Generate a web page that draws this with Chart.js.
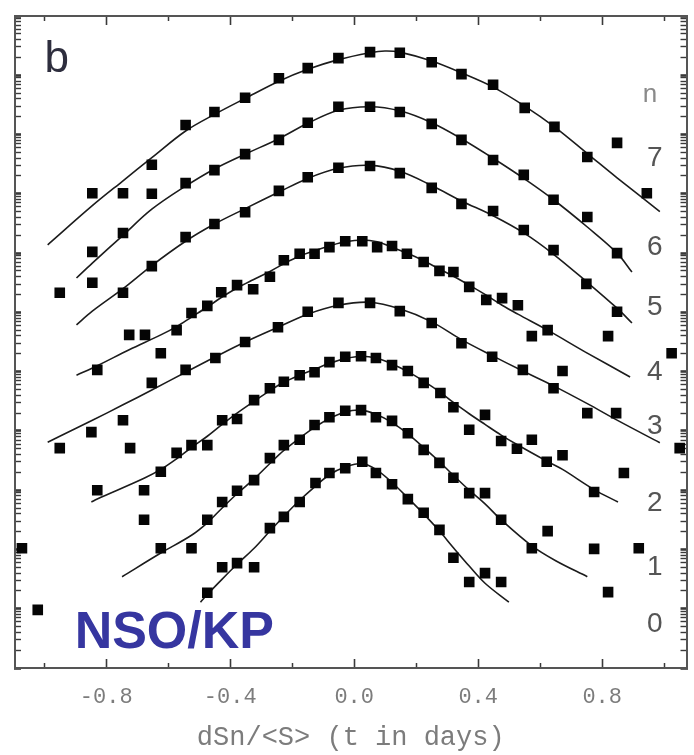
<!DOCTYPE html>
<html>
<head>
<meta charset="utf-8">
<script src="https://cdn.jsdelivr.net/npm/chart.js@4.4.0/dist/chart.umd.min.js"></script>
<style>
html,body{margin:0;padding:0;background:#fff;}
canvas{display:block;}
</style>
</head>
<body>
<canvas id="c" width="694" height="755"></canvas>
<script>
// ---- axis / label data ----
const xMajorTicks = [-0.8, -0.4, 0.0, 0.4, 0.8];
const xMinorTicks = [-1.0, -0.6, -0.2, 0.2, 0.6, 1.0];
const yDecades = [0, 1, 2, 3, 4, 5, 6, 7, 8, 9, 10, 11];
const curveLabels = ['n', '7', '6', '5', '4', '3', '2', '1', '0'];
const xTitle = 'dSn/<S> (t in days)';

// ---- measured points: [t, log10 value] ----
const dots7 = [[-0.845,8.01],[-0.746,8.01],[-0.653,8.49],[-0.544,9.16],[-0.451,9.38],[-0.352,9.62],[-0.243,9.95],[-0.150,10.12],[-0.051,10.29],[0.051,10.39],[0.147,10.38],[0.250,10.22],[0.346,10.02],[0.448,9.84],[0.550,9.45],[0.646,9.13],[0.752,8.62],[0.848,8.86],[0.944,8.01]];
const dots6 = [[-0.950,6.33],[-0.845,7.02],[-0.746,7.34],[-0.653,8.00],[-0.544,8.18],[-0.451,8.40],[-0.352,8.67],[-0.243,8.91],[-0.150,9.20],[-0.051,9.47],[0.051,9.47],[0.147,9.38],[0.250,9.18],[0.346,8.91],[0.448,8.57],[0.547,8.32],[0.643,7.90],[0.752,7.61],[0.848,7.00]];
const dots5 = [[-0.845,6.50],[-0.746,6.33],[-0.653,6.78],[-0.544,7.27],[-0.451,7.49],[-0.352,7.69],[-0.243,8.05],[-0.150,8.28],[-0.051,8.44],[0.051,8.47],[0.147,8.35],[0.250,8.10],[0.346,7.83],[0.448,7.71],[0.547,7.39],[0.643,7.05],[0.749,6.48],[0.848,6.01]];
const dots4 = [[-0.829,5.03],[-0.726,5.62],[-0.675,5.62],[-0.573,5.70],[-0.525,5.99],[-0.474,6.11],[-0.429,6.34],[-0.378,6.46],[-0.326,6.39],[-0.272,6.60],[-0.227,6.88],[-0.176,6.99],[-0.128,6.99],[-0.080,7.10],[-0.029,7.20],[0.026,7.20],[0.074,7.10],[0.122,7.12],[0.170,6.99],[0.224,6.85],[0.275,6.70],[0.320,6.68],[0.371,6.43],[0.426,6.21],[0.477,6.24],[0.528,6.12],[0.573,5.60],[0.624,5.70],[0.819,5.60],[1.024,5.31]];
const dots3 = [[-0.950,3.71],[-0.848,3.98],[-0.746,4.18],[-0.723,3.71],[-0.653,4.81],[-0.624,5.31],[-0.544,5.03],[-0.448,5.23],[-0.352,5.50],[-0.246,5.75],[-0.150,6.01],[-0.051,6.16],[0.051,6.16],[0.147,6.02],[0.250,5.82],[0.346,5.48],[0.445,5.25],[0.544,5.03],[0.643,4.72],[0.672,5.01],[0.752,4.30],[0.845,4.30],[1.050,3.71]];
const dots2 = [[-0.829,3.00],[-0.678,3.00],[-0.678,2.50],[-0.624,3.31],[-0.573,3.63],[-0.525,3.76],[-0.474,3.76],[-0.426,4.18],[-0.378,4.20],[-0.323,4.52],[-0.272,4.72],[-0.227,4.83],[-0.176,4.94],[-0.128,4.99],[-0.080,5.16],[-0.029,5.25],[0.022,5.26],[0.070,5.23],[0.122,5.11],[0.173,5.01],[0.224,4.81],[0.278,4.64],[0.320,4.40],[0.371,4.02],[0.422,4.27],[0.474,3.83],[0.525,3.70],[0.573,3.85],[0.621,3.48],[0.672,3.59],[0.774,2.97],[0.870,3.29]];
const dots1 = [[-1.072,2.02],[-0.624,2.02],[-0.525,2.02],[-0.474,2.50],[-0.426,2.80],[-0.378,2.99],[-0.323,3.17],[-0.272,3.54],[-0.227,3.76],[-0.176,3.85],[-0.128,4.10],[-0.080,4.23],[-0.029,4.34],[0.022,4.35],[0.070,4.23],[0.122,4.17],[0.173,3.96],[0.224,3.68],[0.275,3.46],[0.320,3.21],[0.371,2.95],[0.422,2.95],[0.474,2.50],[0.573,2.02],[0.624,2.31],[0.774,2.01],[0.918,2.02]];
const dots0 = [[-1.021,0.98],[-0.474,1.27],[-0.426,1.70],[-0.378,1.77],[-0.323,1.70],[-0.272,2.36],[-0.227,2.55],[-0.176,2.80],[-0.125,3.12],[-0.080,3.29],[-0.029,3.37],[0.026,3.48],[0.070,3.29],[0.122,3.10],[0.173,2.85],[0.224,2.62],[0.275,2.33],[0.320,1.86],[0.371,1.45],[0.422,1.60],[0.474,1.45],[0.819,1.28]];

// ---- fitted curves: [t, log10 value] ----
const fit7 = [[-0.989,7.14],[-0.845,7.80],[-0.746,8.22],[-0.653,8.61],[-0.544,9.06],[-0.451,9.34],[-0.352,9.61],[-0.243,9.90],[-0.150,10.10],[-0.054,10.26],[0.051,10.38],[0.099,10.41],[0.147,10.39],[0.250,10.24],[0.346,10.04],[0.448,9.80],[0.550,9.48],[0.646,9.13],[0.752,8.68],[0.848,8.27],[0.986,7.70]];
const fit6 = [[-0.896,6.58],[-0.845,6.83],[-0.746,7.30],[-0.653,7.74],[-0.544,8.13],[-0.451,8.42],[-0.352,8.67],[-0.243,8.93],[-0.150,9.19],[-0.051,9.41],[0.051,9.47],[0.147,9.40],[0.250,9.20],[0.346,8.93],[0.448,8.60],[0.547,8.26],[0.643,7.90],[0.752,7.44],[0.848,7.00],[0.896,6.68]];
const fit5 = [[-0.896,5.79],[-0.845,6.02],[-0.746,6.40],[-0.653,6.79],[-0.544,7.20],[-0.451,7.49],[-0.352,7.75],[-0.243,8.03],[-0.150,8.26],[-0.051,8.43],[0.051,8.48],[0.147,8.38],[0.250,8.14],[0.346,7.88],[0.448,7.63],[0.547,7.34],[0.643,6.98],[0.749,6.52],[0.848,6.07],[0.896,5.82]];
const fit4 = [[-0.896,4.94],[-0.829,5.10],[-0.726,5.37],[-0.624,5.62],[-0.573,5.76],[-0.525,5.92],[-0.474,6.09],[-0.429,6.25],[-0.378,6.41],[-0.326,6.55],[-0.272,6.69],[-0.227,6.82],[-0.176,6.95],[-0.128,7.04],[-0.080,7.12],[-0.029,7.19],[0.026,7.22],[0.074,7.19],[0.122,7.10],[0.170,7.00],[0.224,6.87],[0.275,6.73],[0.320,6.61],[0.371,6.46],[0.426,6.29],[0.477,6.12],[0.528,5.97],[0.624,5.70],[0.746,5.33],[0.890,4.91]];
const fit3 = [[-0.989,3.81],[-0.950,3.91],[-0.848,4.17],[-0.746,4.44],[-0.653,4.69],[-0.544,4.99],[-0.448,5.25],[-0.352,5.50],[-0.246,5.75],[-0.150,5.97],[-0.051,6.12],[0.051,6.17],[0.147,6.06],[0.250,5.84],[0.346,5.54],[0.445,5.27],[0.544,5.01],[0.643,4.76],[0.752,4.46],[0.845,4.19],[0.986,3.80]];
const fit2 = [[-0.848,2.80],[-0.829,2.85],[-0.678,3.20],[-0.624,3.35],[-0.573,3.53],[-0.525,3.72],[-0.474,3.91],[-0.426,4.11],[-0.378,4.30],[-0.323,4.50],[-0.272,4.68],[-0.227,4.82],[-0.176,4.94],[-0.128,5.04],[-0.080,5.14],[-0.029,5.22],[0.022,5.26],[0.070,5.23],[0.122,5.13],[0.173,5.00],[0.224,4.84],[0.278,4.65],[0.320,4.48],[0.371,4.29],[0.422,4.11],[0.474,3.93],[0.525,3.77],[0.621,3.49],[0.672,3.35],[0.774,3.01],[0.851,2.80]];
const fit1 = [[-0.749,1.54],[-0.624,1.94],[-0.525,2.24],[-0.474,2.45],[-0.426,2.70],[-0.378,2.94],[-0.323,3.19],[-0.272,3.45],[-0.227,3.67],[-0.176,3.88],[-0.128,4.06],[-0.080,4.21],[-0.029,4.32],[0.022,4.35],[0.070,4.28],[0.122,4.14],[0.173,3.95],[0.224,3.72],[0.275,3.48],[0.320,3.25],[0.371,3.00],[0.422,2.77],[0.474,2.50],[0.573,2.06],[0.650,1.81],[0.752,1.54]];
const fit0 = [[-0.496,1.11],[-0.474,1.24],[-0.426,1.50],[-0.378,1.75],[-0.323,2.02],[-0.272,2.31],[-0.227,2.56],[-0.176,2.83],[-0.125,3.07],[-0.080,3.26],[-0.029,3.39],[0.026,3.45],[0.070,3.35],[0.122,3.13],[0.173,2.87],[0.224,2.60],[0.275,2.31],[0.320,2.03],[0.371,1.72],[0.422,1.43],[0.499,1.11]];

const dotSets = [dots0, dots1, dots2, dots3, dots4, dots5, dots6, dots7];
const fitSets = [fit0, fit1, fit2, fit3, fit4, fit5, fit6, fit7];

// ---- layout / style settings ----
const X_MIN = -1.0944, X_MAX = 1.072;
const Y_MIN = 0, Y_MAX = 11;
const labelPlace = { x: 0.970, nx: 0.954, y: [9.67, 8.60, 7.10, 6.09, 4.99, 4.07, 2.78, 1.70, 0.73] };
const panelLetter = { text: 'b', x: -0.96, y: 10.06 };
const stationTag = { text: 'NSO/KP', x: -0.902, y: 0.337 };

// log-style tick positions inside each decade (decade + log10(k))
const yAllTicks = yDecades.flatMap((d, i) => i === yDecades.length - 1 ? [d]
  : [1,2,3,4,5,6,7,8,9].map(k => d + Math.log10(k)));
const isDecade = v => Math.abs(v - Math.round(v)) < 1e-9;

const tickCol = '#3a3a3a';
function setTicks(vals) { return s => { s.ticks = vals.map(v => ({ value: v })); }; }
function axis(pos, vals, len, w, fitSize, weight, extra) {
  const horiz = pos === 'top' || pos === 'bottom';
  return Object.assign({
    type: 'linear', position: pos, axis: horiz ? 'x' : 'y',
    min: horiz ? X_MIN : Y_MIN, max: horiz ? X_MAX : Y_MAX,
    weight: weight, offset: false,
    afterBuildTicks: setTicks(vals),
    afterFit: s => { if (horiz) s.height = fitSize; else s.width = fitSize; },
    ticks: { display: false, autoSkip: false },
    grid: { display: true, drawOnChartArea: false, drawTicks: true, tickLength: len, tickWidth: w, tickColor: tickCol },
    border: { display: false }
  }, extra || {});
}

const mainBorder = { display: true, color: '#555', width: 2 };
const yTickWidth = c => (c.tick && isDecade(c.tick.value)) ? 2.6 : 1.4;

const scales = {
  x: axis('bottom', xMajorTicks, -9, 1.6, 87, 2, {
    border: mainBorder,
    ticks: { display: true, autoSkip: false, padding: 25, maxRotation: 0,
      color: '#7c7c7c', font: { family: '"Liberation Mono", monospace', size: 22 },
      callback: v => Number(v).toFixed(1) },
    title: { display: true, text: xTitle, color: '#7c7c7c',
      font: { family: '"Liberation Mono", monospace', size: 27 }, padding: { top: 0, bottom: 1 } }
  }),
  xMinor: axis('bottom', xMinorTicks, -5, 1.5, 0, 0),
  xTop: axis('top', xMajorTicks, -9, 1.6, 16, 2, { border: mainBorder }),
  xTopMinor: axis('top', xMinorTicks, -5, 1.5, 0, 0),
  y: axis('left', yAllTicks, -6, 1.4, 15, 2, { border: mainBorder }),
  yRight: axis('right', yAllTicks, -6, 1.4, 2, 2, { border: mainBorder })
};
scales.y.grid.tickWidth = yTickWidth;
scales.yRight.grid.tickWidth = yTickWidth;

const datasets = [];
dotSets.forEach((d, i) => datasets.push({
  label: 'n = ' + i, data: d.map(([x, y]) => ({ x, y })),
  showLine: false, pointStyle: 'rect', pointRadius: 7.5, pointHoverRadius: 7.5,
  backgroundColor: '#050505', borderColor: '#050505', borderWidth: 0,
  xAxisID: 'x', yAxisID: 'y'
}));
fitSets.forEach((d, i) => datasets.push({
  label: 'fit n = ' + i, data: d.map(([x, y]) => ({ x, y })),
  showLine: true, borderColor: '#1c1c1c', borderWidth: 1.6, pointRadius: 0, pointHoverRadius: 0,
  tension: 0.35, fill: false,
  xAxisID: 'x', yAxisID: 'y'
}));

const textPlugin = {
  id: 'texts',
  beforeDatasetsDraw(chart) {
    const { ctx } = chart; const sx = chart.scales.x, sy = chart.scales.y;
    ctx.save();
    ctx.textAlign = 'center'; ctx.textBaseline = 'middle';
    curveLabels.forEach((t, i) => {
      if (t === 'n') { ctx.fillStyle = '#8a8a8a'; ctx.font = '26px "Liberation Sans", sans-serif'; }
      else { ctx.fillStyle = '#555'; ctx.font = '28px "Liberation Sans", sans-serif'; }
      const px = sx.getPixelForValue(t === 'n' ? labelPlace.nx : labelPlace.x);
      ctx.fillText(t, px, sy.getPixelForValue(labelPlace.y[i]));
    });
    ctx.textBaseline = 'alphabetic';
    ctx.fillStyle = '#2e2e3e'; ctx.font = '44px "Liberation Sans", sans-serif';
    ctx.fillText(panelLetter.text, sx.getPixelForValue(panelLetter.x), sy.getPixelForValue(panelLetter.y));
    ctx.textAlign = 'left';
    ctx.fillStyle = '#3636a0'; ctx.font = 'bold 52px "Liberation Sans", sans-serif';
    ctx.fillText(stationTag.text, sx.getPixelForValue(stationTag.x), sy.getPixelForValue(stationTag.y));
    ctx.restore();
  }
};

new Chart(document.getElementById('c'), {
  type: 'scatter',
  data: { datasets },
  options: {
    responsive: false, animation: false, devicePixelRatio: 1,
    layout: { padding: 0 },
    plugins: { legend: { display: false }, tooltip: { enabled: false } },
    scales
  },
  plugins: [textPlugin]
});
</script>
</body>
</html>
